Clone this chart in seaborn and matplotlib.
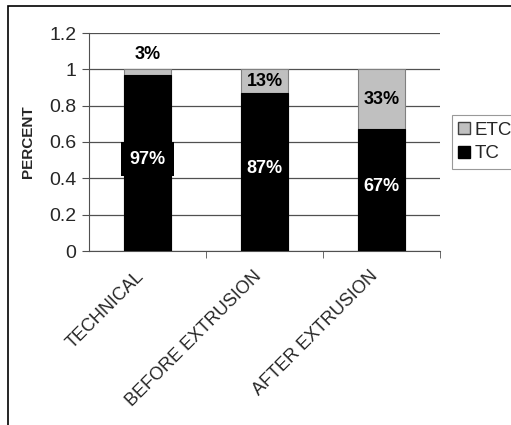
import matplotlib
matplotlib.use("Agg")
import matplotlib.pyplot as plt
import matplotlib.transforms as mtransforms
import seaborn as sns
import pandas as pd
from matplotlib.patches import Patch

# chart values
categories = ["TECHNICAL", "BEFORE EXTRUSION", "AFTER EXTRUSION"]
tc_values = [0.97, 0.87, 0.67]
etc_values = [0.03, 0.13, 0.33]
tc_labels = ["97%", "87%", "67%"]
etc_labels = ["3%", "13%", "33%"]
y_ticks = [0, 0.2, 0.4, 0.6, 0.8, 1, 1.2]
y_ticklabels = ["0", "0.2", "0.4", "0.6", "0.8", "1", "1.2"]

sns.set_style("white")
plt.rcParams["font.family"] = ["Liberation Sans", "DejaVu Sans"]

df = pd.DataFrame({"cat": categories, "TC": tc_values, "ETC": etc_values})
df["total"] = df["TC"] + df["ETC"]

fig = plt.figure(figsize=(5.11, 4.25), dpi=100)
ax = fig.add_axes([89 / 511, 1 - 251 / 425, 351 / 511, 218 / 425])

# stacked bars: draw total in ETC colour, then TC on top of it
sns.barplot(data=df, x="cat", y="total", color="#c0c0c0", width=0.4,
            edgecolor="#808080", linewidth=0.8, ax=ax, zorder=2)
sns.barplot(data=df, x="cat", y="TC", color="black", width=0.4,
            edgecolor="black", linewidth=0.8, ax=ax, zorder=3)

ax.set_ylim(0, 1.2)
ax.set_xlim(-0.5, 2.5)
ax.set_yticks(y_ticks)
ax.set_yticklabels(y_ticklabels, fontsize=14)
ax.yaxis.grid(True, color="#505050", linewidth=0.9, zorder=0)
ax.set_axisbelow(True)

# x ticks between categories, labels at category centres
ax.set_xticks([0, 1, 2])
ax.set_xticklabels(categories, rotation=45, ha="right", va="top",
                   rotation_mode="anchor", fontsize=13)
ax.tick_params(axis="x", length=0, pad=12)
shift = mtransforms.ScaledTranslation(-12 / 100, 0, fig.dpi_scale_trans)
for lbl in ax.get_xticklabels():
    lbl.set_transform(lbl.get_transform() + shift)
ax.set_xticks([0.5, 1.5, 2.5], minor=True)
ax.tick_params(axis="x", which="minor", length=5, direction="out", color="#505050")
ax.tick_params(axis="y", length=5, direction="out", color="#505050", pad=4)
ax.tick_params(axis="both", bottom=True, left=True, which="both")

for side in ["top", "right"]:
    ax.spines[side].set_visible(False)
ax.spines["left"].set_color("#505050")
ax.spines["bottom"].set_color("#505050")

ax.set_xlabel("")
ax.set_ylabel("PERCENT", fontsize=11, fontweight="bold", labelpad=10)

# value labels
for i, (tc, etc) in enumerate(zip(tc_values, etc_values)):
    ax.text(i, tc / 2 + 0.02, tc_labels[i], color="white", fontweight="bold",
            fontsize=13, ha="center", va="center", zorder=5,
            bbox=dict(facecolor="black", edgecolor="none", pad=6 if i == 0 else 3))
    y = tc + etc / 2 if etc > 0.1 else 1.08
    ax.text(i, y, etc_labels[i], color="black", fontweight="bold",
            fontsize=13, ha="center", va="center", zorder=5)

# legend
handles = [Patch(facecolor="#c0c0c0", edgecolor="#404040", label="ETC"),
           Patch(facecolor="black", edgecolor="black", label="TC")]
leg = ax.legend(handles=handles, loc="center left", bbox_to_anchor=(1.034, 0.5),
                frameon=True, fancybox=False, fontsize=13.5, handlelength=0.6,
                handleheight=0.6, handletextpad=0.25, borderpad=0.35,
                labelspacing=0.35, borderaxespad=0)
leg.get_frame().set_edgecolor("#808080")
leg.get_frame().set_linewidth(0.8)

# outer frame
fig.patches.append(plt.Rectangle((8 / 511, -0.01), 1.2, 1 - 6 / 425 + 0.01,
                                 transform=fig.transFigure, fill=False,
                                 edgecolor="black", linewidth=1.2))

fig.savefig("out.png", dpi=100)
